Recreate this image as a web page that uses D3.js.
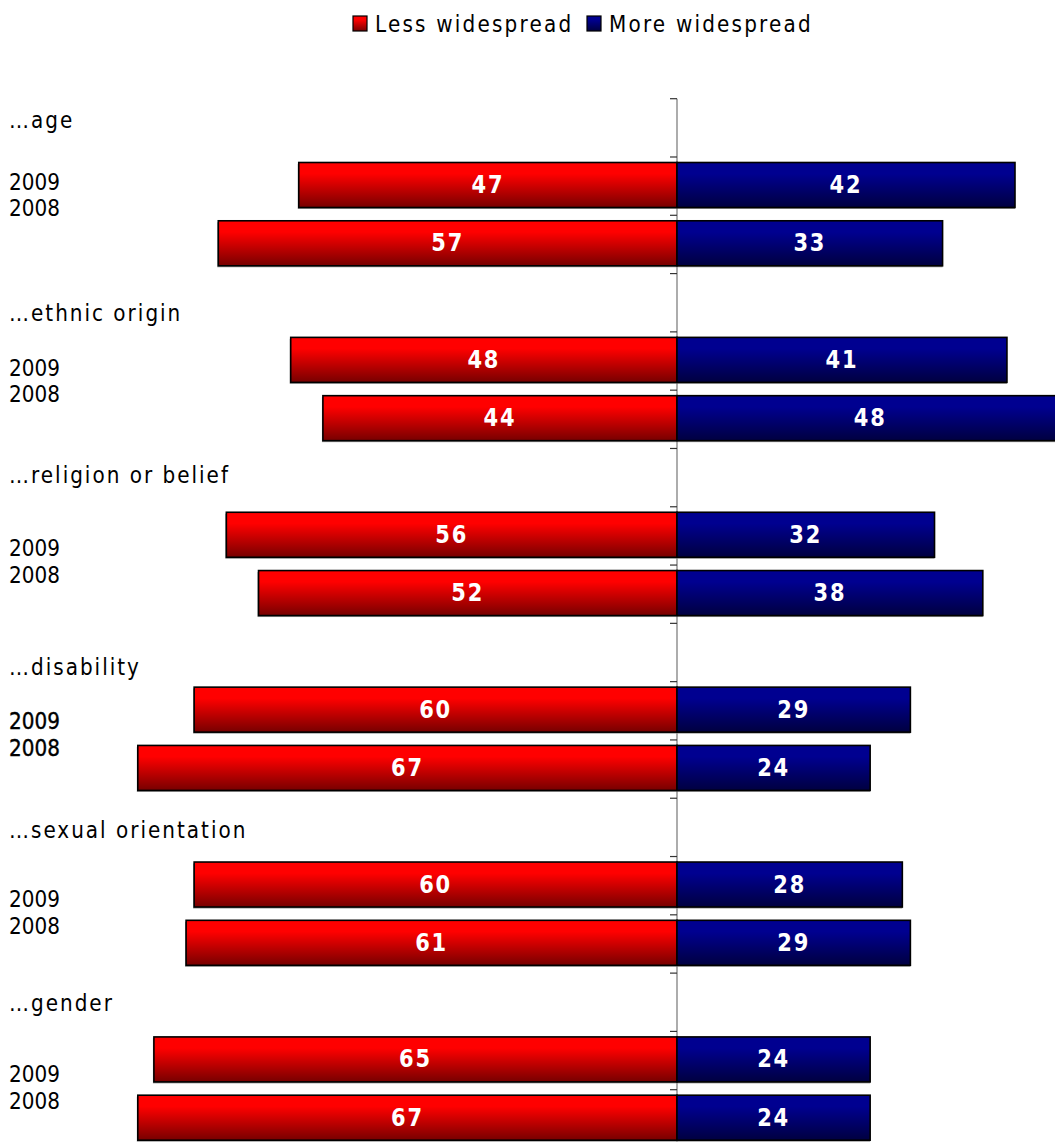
<!DOCTYPE html>
<html>
<head>
<meta charset="utf-8">
<script src="https://cdn.jsdelivr.net/npm/d3@7"></script>
<style>
  html, body { margin: 0; padding: 0; background: #fff; }
  svg { display: block; }
</style>
</head>
<body>
<svg id="chart" width="1055" height="1142"></svg>
<script>
// Survey: is discrimination on these grounds less or more widespread?
const categories = ["…age", "…ethnic origin", "…religion or belief", "…disability", "…sexual orientation", "…gender"];
const years = ["2009", "2008"];
const seriesNames = ["Less widespread", "More widespread"];
const less2009 = [47, 48, 56, 60, 60, 65];
const less2008 = [57, 44, 52, 67, 61, 67];
const more2009 = [42, 41, 32, 29, 28, 24];
const more2008 = [33, 48, 38, 24, 29, 24];

// vertical placement of the category captions and the year labels within each group
const captionOffset = [21, 39, 27, 44, 32, 30];
const yearOffset = [83, 94, 100, 98, 101, 101];

const FONT = "DejaVu Sans, Verdana, sans-serif";
const TALL = 1.14; // glyphs are drawn slightly taller than wide

const svg = d3.select("#chart");

const x = d3.scaleLinear().domain([-84, 0]).range([1, 677]);
// 18 row slots: each category takes a caption slot plus one slot per year
const slot = d3.scaleLinear().domain([0, 18]).range([98.7, 1148]);

const defs = svg.append("defs");
function grad(id, top, bottom) {
  const g = defs.append("linearGradient").attr("id", id)
    .attr("x1", 0).attr("y1", 0).attr("x2", 0).attr("y2", 1);
  g.append("stop").attr("offset", "0%").attr("stop-color", top);
  g.append("stop").attr("offset", "25%").attr("stop-color", top);
  g.append("stop").attr("offset", "100%").attr("stop-color", bottom);
}
grad("gLess", "#ff0000", "#770000");
grad("gMore", "#000090", "#000040");

// build rows
const rows = [];
categories.forEach((c, i) => {
  rows.push({ cat: i, year: years[0], s: 3 * i + 1, less: less2009[i], more: more2009[i] });
  rows.push({ cat: i, year: years[1], s: 3 * i + 2, less: less2008[i], more: more2008[i] });
});

const barTop = d => slot(d.s) + 5.5;
const barH = 45;

// axis line and ticks
const axisG = svg.append("g");
axisG.append("line")
  .attr("x1", x(0)).attr("x2", x(0))
  .attr("y1", slot(0)).attr("y2", slot(18))
  .attr("stroke", "#808080").attr("stroke-width", 1.3);
axisG.selectAll("line.tick").data(d3.range(0, 19)).join("line")
  .attr("class", "tick")
  .attr("x1", x(0) - 7).attr("x2", x(0))
  .attr("y1", d => slot(d)).attr("y2", d => slot(d))
  .attr("stroke", "#333").attr("stroke-width", 1.2);

const bars = svg.append("g");
// soft shadow under each bar
[["less", d => x(-d.less), d => x(0) - x(-d.less)], ["more", () => x(0), d => x(d.more) - x(0)]].forEach(([key, xf, wf]) => {
  bars.selectAll("rect.sh-" + key).data(rows).join("rect")
    .attr("class", "sh-" + key)
    .attr("x", d => xf(d) - 1).attr("y", d => barTop(d) + 1.5)
    .attr("width", d => wf(d) + 1).attr("height", barH)
    .attr("fill", "#9a9a9a");
});
bars.selectAll("rect.less").data(rows).join("rect")
  .attr("class", "less")
  .attr("x", d => x(-d.less)).attr("y", barTop)
  .attr("width", d => x(0) - x(-d.less)).attr("height", barH)
  .attr("fill", "url(#gLess)").attr("stroke", "#000").attr("stroke-width", 1.6);
bars.selectAll("rect.more").data(rows).join("rect")
  .attr("class", "more")
  .attr("x", x(0)).attr("y", barTop)
  .attr("width", d => x(d.more) - x(0)).attr("height", barH)
  .attr("fill", "url(#gMore)").attr("stroke", "#000").attr("stroke-width", 1.6);

const place = (px, py) => `translate(${px},${py}) scale(1,${TALL})`;

// value labels
function valueLabels(cls, vf, cx) {
  svg.append("g").selectAll("text." + cls).data(rows).join("text")
    .attr("class", cls)
    .attr("transform", d => place(cx(d), barTop(d) + barH / 2 + 8))
    .attr("text-anchor", "middle").attr("fill", "#fff")
    .attr("font-family", FONT).attr("font-size", "21px").attr("font-weight", "bold")
    .attr("letter-spacing", "1.8px")
    .text(vf);
}
valueLabels("vl", d => d.less, d => (x(-d.less) + x(0)) / 2);
valueLabels("vm", d => d.more, d => (x(0) + x(d.more)) / 2);

// category captions
svg.append("g").selectAll("text").data(categories).join("text")
  .attr("transform", (d, i) => place(9, slot(3 * i) + captionOffset[i] + 8))
  .attr("font-family", FONT).attr("font-size", "20px")
  .attr("letter-spacing", "2px").attr("fill", "#000")
  .text(d => d);

// year labels
svg.append("g").selectAll("text").data(rows).join("text")
  .attr("transform", d => place(9, slot(3 * d.cat) + yearOffset[d.cat] + 8 + (d.year === years[1] ? 26.5 : 0)))
  .attr("font-family", FONT).attr("font-size", "20px")
  .attr("fill", "#000")
  .attr("stroke", d => categories[d.cat] === "…disability" ? "#000" : "none")
  .attr("stroke-width", 0.35)
  .text(d => d.year);

// legend
const legend = svg.append("g").attr("font-family", FONT).attr("font-size", "20px");
const legendX = [353, 587];
const legendFill = ["url(#gLess)", "url(#gMore)"];
seriesNames.forEach((n, i) => {
  legend.append("rect").attr("x", legendX[i]).attr("y", 16).attr("width", 14).attr("height", 15)
    .attr("fill", legendFill[i]).attr("stroke", "#000").attr("stroke-width", 1.2);
  legend.append("text").attr("transform", place(legendX[i] + 22, 32))
    .attr("letter-spacing", "2.2px").attr("fill", "#000").text(n);
});
</script>
</body>
</html>
